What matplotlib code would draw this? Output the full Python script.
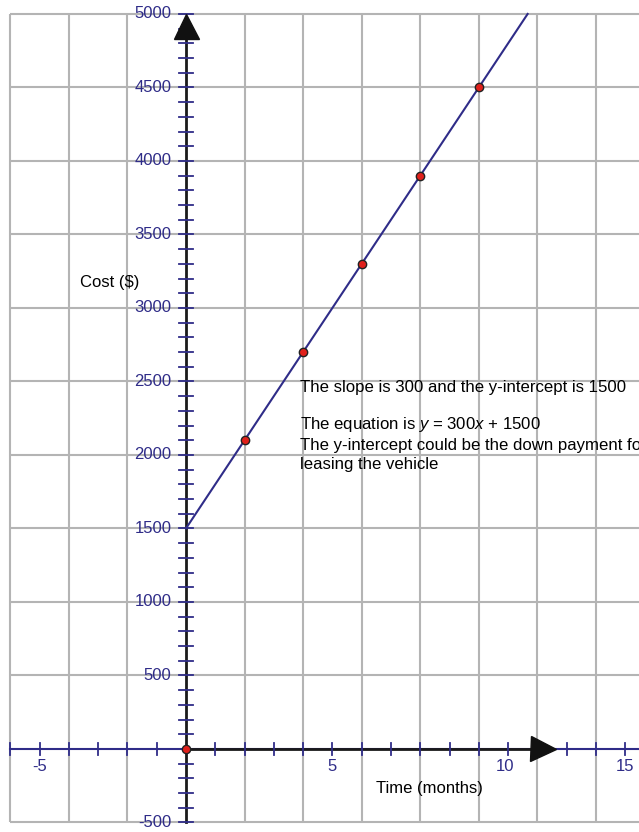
import matplotlib
matplotlib.use('Agg')
import numpy as np
import matplotlib.pyplot as plt

plt.rcParams['font.family'] = ['Liberation Sans', 'DejaVu Sans']
plt.rcParams['mathtext.fontset'] = 'custom'
plt.rcParams['mathtext.rm'] = 'Liberation Sans'
plt.rcParams['mathtext.it'] = 'Liberation Sans:italic'

# cost of leasing: y = 300x + 1500
SLOPE = 300
INTERCEPT = 1500
months = [2, 4, 6, 8, 10]
costs = [2100, 2700, 3300, 3900, 4500]

x_tick_pos = [-5, 5, 10.9, 15]
x_tick_text = ['-5', '5', '10', '15']
y_tick_vals = [-500, 500, 1000, 1500, 2000, 2500, 3000, 3500, 4000, 4500, 5000]

NAVY = '#2f2c88'
GRID = '#b4b4b4'

fig = plt.figure(figsize=(6.39, 8.32), dpi=100)
ax = fig.add_axes([0, 0, 1, 1])
ax.set_xlim(-6.35, 15.47)
ax.set_ylim(-565, 5095)
ax.axis('off')

# grid
gx = np.arange(-6, 16, 2)
gy = np.arange(-500, 5001, 500)
ax.vlines(gx[gx != 0], -500, 5000, color=GRID, lw=1.5, zorder=1)
ax.hlines(gy[gy != 0], -6, 16, color=GRID, lw=1.5, zorder=1)

# x axis: navy full length, black from origin to arrow
ax.plot([-6, 16], [0, 0], color=NAVY, lw=1.5, zorder=2)
ax.plot([0, 12.2], [0, 0], color='#1a1a1a', lw=2, zorder=3)
ax.plot([12.2], [0], marker='>', ms=18, color='#111111', zorder=4)

# y axis with arrow at top
ax.plot([0, 0], [-500, 4900], color='#1a1a1a', lw=2, zorder=3)
ax.plot([0], [4918], marker='^', ms=18, color='#111111', zorder=4)

# ticks
xt = np.arange(-6, 16, 1)
for v in xt:
    if v == 0:
        continue
    ax.plot([v, v], [-40, 40], color=NAVY, lw=1.3, zorder=3)
yt = np.arange(-500, 5001, 100)
for v in yt:
    if v == 0:
        continue
    ax.plot([-0.23, 0.23], [v, v], color=NAVY, lw=1.3, zorder=3)

for p, t in zip(x_tick_pos, x_tick_text):
    ax.text(p, -120, t, color=NAVY, fontsize=12, ha='center', va='center')
for v in y_tick_vals:
    ax.text(-0.5, v, str(v), color=NAVY, fontsize=12, ha='right', va='center')

# cost line and points
x_end = (5000 - INTERCEPT) / SLOPE
ax.plot([0, x_end], [INTERCEPT, 5000], color=NAVY, lw=1.5, zorder=5)
ax.plot(months, costs, 'o', ms=6, mfc='#e0201b', mec='#222222', mew=1, zorder=6)
ax.plot([0], [0], 'o', ms=6, mfc='#e0201b', mec='#222222', mew=1, zorder=6)

ax.text(-2.6, 3170, 'Cost ($)', fontsize=12, ha='center', va='center')
ax.text(8.33, -272, 'Time (months)', fontsize=12, ha='center', va='center')

# notes; the last word of the third line runs off the right edge
ax.text(3.89, 2456, 'The slope is 300 and the y-intercept is 1500',
        fontsize=12.1, ha='left', va='center', zorder=7)
ax.text(3.89, 2205, 'The equation is $y$ = 300$x$ + 1500',
        fontsize=12.1, ha='left', va='center', zorder=7)
ax.text(3.89, 2065, 'The y-intercept could be the down payment for',
        fontsize=12.1, ha='left', va='center', zorder=7)
ax.text(3.89, 1935, 'leasing the vehicle',
        fontsize=12.1, ha='left', va='center', zorder=7)

fig.savefig('out.png', dpi=100)
